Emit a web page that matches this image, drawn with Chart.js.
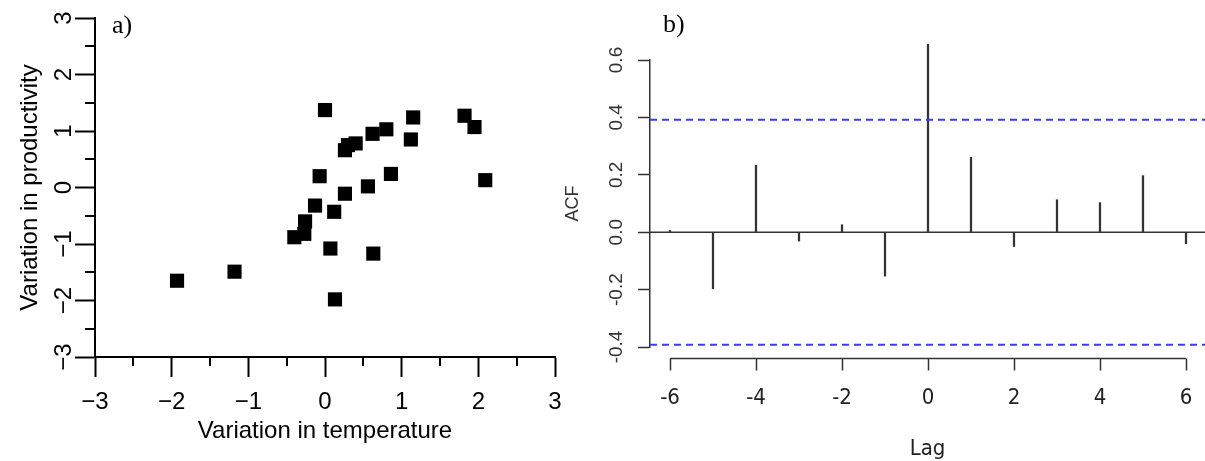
<!DOCTYPE html>
<html>
<head>
<meta charset="utf-8">
<script src="https://cdn.jsdelivr.net/npm/chart.js@4.4.1/dist/chart.umd.min.js"></script>
<style>
  html, body { margin: 0; padding: 0; background: #fff; }
  #wrap { position: relative; width: 1205px; height: 461px; overflow: hidden; }
  #leftBox { position: absolute; left: 0; top: 0; width: 600px; height: 461px; }
  #rightBox { position: absolute; left: 540px; top: 0; width: 665px; height: 461px; }
</style>
</head>
<body>
<div id="wrap">
  <div id="leftBox"><canvas id="scatterChart"></canvas></div>
  <div id="rightBox"><canvas id="acfChart"></canvas></div>
</div>
<script>
// panel a) temperature vs productivity anomalies
var tempVar = [0.00, 1.15, 1.82, 1.95, 0.80, 0.62, 0.40, 0.30, 0.26, 1.12, -0.07, 0.86, 0.56,
               0.26, -0.13, 0.12, -0.26, -0.27, -0.40, 0.07, 0.63, -1.93, -1.18, 0.13, 2.09];
var prodVar = [1.37, 1.24, 1.27, 1.07, 1.03, 0.95, 0.78, 0.75, 0.66, 0.85, 0.20, 0.24, 0.02,
               -0.11, -0.32, -0.43, -0.60, -0.82, -0.88, -1.08, -1.17, -1.65, -1.49, -1.98, 0.13];
var ticksA = [-3, -2, -1, 0, 1, 2, 3];
var minorTicksA = [-2.5, -1.5, -0.5, 0.5, 1.5, 2.5];

// panel b) cross-correlation
var lags = [-6, -5, -4, -3, -2, -1, 0, 1, 2, 3, 4, 5, 6];
var acfValues = [0.006, -0.197, 0.233, -0.031, 0.026, -0.153, 0.655, 0.261, -0.050, 0.113, 0.103, 0.197, -0.040];
var acfTicks = [-0.4, -0.2, 0.0, 0.2, 0.4, 0.6];
var lagTicks = [-6, -4, -2, 0, 2, 4, 6];
var ciBound = 0.392;
var lagMin = -6.465, lagMax = 6.442;

var sans = "'Liberation Sans', Arial, sans-serif";
var narrow = "'Liberation Sans Narrow', 'DejaVu Sans Condensed', 'Liberation Sans', sans-serif";

function fmtMinus(v) {
  return v < 0 ? '\u2212' + Math.abs(v) : String(v);
}

// keep the chart area exactly where the layout padding puts it
function noEdgePadding(s) {
  s.paddingLeft = 0;
  s.paddingRight = 0;
  s.paddingTop = 0;
  s.paddingBottom = 0;
}

var minorTicksPlugin = {
  id: 'minorTicks',
  afterDraw: function(chart) {
    var ctx = chart.ctx, xs = chart.scales.x, ys = chart.scales.y, area = chart.chartArea;
    ctx.save();
    ctx.strokeStyle = '#000';
    ctx.lineWidth = 2;
    ctx.beginPath();
    minorTicksA.forEach(function(v) {
      var px = Math.round(xs.getPixelForValue(v));
      ctx.moveTo(px, area.bottom);
      ctx.lineTo(px, area.bottom + 9);
      var py = Math.round(ys.getPixelForValue(v));
      ctx.moveTo(area.left, py);
      ctx.lineTo(area.left - 10, py);
    });
    ctx.stroke();
    ctx.fillStyle = '#000';
    ctx.font = "26px 'Liberation Serif', serif";
    ctx.fillText('a)', 112, 33);
    ctx.restore();
  }
};

new Chart(document.getElementById('scatterChart'), {
  type: 'scatter',
  data: {
    datasets: [{
      data: tempVar.map(function(t, i) { return {x: t, y: prodVar[i]}; }),
      pointStyle: 'rect',
      pointRadius: 10,
      pointHoverRadius: 10,
      backgroundColor: '#000',
      borderWidth: 0
    }]
  },
  options: {
    responsive: true,
    maintainAspectRatio: false,
    animation: false,
    layout: {padding: {top: 18, right: 45, left: 0, bottom: 0}},
    plugins: {legend: {display: false}, tooltip: {enabled: false}},
    scales: {
      x: {
        type: 'linear', min: -3, max: 3,
        afterBuildTicks: function(s) { s.ticks = ticksA.map(function(v) { return {value: v}; }); },
        afterFit: function(s) { s.height = 104; noEdgePadding(s); },
        border: {display: true, color: '#000', width: 2},
        grid: {drawOnChartArea: false, drawTicks: true, tickLength: 20, tickWidth: 2, tickColor: '#000'},
        ticks: {font: {family: sans, size: 24}, color: '#000', padding: 11, maxRotation: 0, autoSkip: false,
                callback: function(v) { return fmtMinus(v); }},
        title: {display: true, text: 'Variation in temperature', font: {family: sans, size: 24}, color: '#000',
                padding: {top: 0, bottom: 15}}
      },
      y: {
        type: 'linear', min: -3, max: 3,
        afterBuildTicks: function(s) { s.ticks = ticksA.map(function(v) { return {value: v}; }); },
        afterFit: function(s) { s.width = 95; noEdgePadding(s); },
        border: {display: true, color: '#000', width: 2},
        grid: {drawOnChartArea: false, drawTicks: true, tickLength: 20, tickWidth: 2, tickColor: '#000'},
        ticks: {font: {family: sans, size: 24}, color: '#000', padding: -3, minRotation: 90, maxRotation: 90,
                crossAlign: 'center', autoSkip: false, callback: function(v) { return fmtMinus(v); }},
        title: {display: true, text: 'Variation in productivity', font: {family: sans, size: 24}, color: '#000',
                padding: {top: 16, bottom: 0}}
      }
    }
  },
  plugins: [minorTicksPlugin]
});

var lagAxisPlugin = {
  id: 'lagAxis',
  afterDraw: function(chart) {
    var ctx = chart.ctx, xs = chart.scales.x, area = chart.chartArea;
    var y0 = Math.round(area.bottom + 11) + 0.5;
    ctx.save();
    ctx.strokeStyle = '#333';
    ctx.lineWidth = 1.5;
    ctx.beginPath();
    ctx.moveTo(xs.getPixelForValue(lagTicks[0]), y0);
    ctx.lineTo(xs.getPixelForValue(lagTicks[lagTicks.length - 1]), y0);
    lagTicks.forEach(function(v) {
      var px = Math.round(xs.getPixelForValue(v)) + 0.5;
      ctx.moveTo(px, y0);
      ctx.lineTo(px, y0 + 12);
    });
    ctx.stroke();
    ctx.fillStyle = '#000';
    ctx.font = "26px 'Liberation Serif', serif";
    ctx.fillText('b)', 123, 32);
    ctx.restore();
  }
};

new Chart(document.getElementById('acfChart'), {
  type: 'bar',
  data: {
    datasets: [{
      type: 'line',
      data: [{x: lagMin, y: ciBound}, {x: lagMax, y: ciBound}],
      borderColor: '#3b3bff', borderWidth: 2, borderDash: [7, 5], pointRadius: 0
    }, {
      type: 'line',
      data: [{x: lagMin, y: -ciBound}, {x: lagMax, y: -ciBound}],
      borderColor: '#3b3bff', borderWidth: 2, borderDash: [7, 5], pointRadius: 0
    }, {
      type: 'line',
      data: [{x: lagMin, y: 0}, {x: lagMax, y: 0}],
      borderColor: '#333', borderWidth: 1.5, pointRadius: 0
    }, {
      type: 'bar',
      data: lags.map(function(l, i) { return {x: l, y: acfValues[i]}; }),
      backgroundColor: '#333',
      borderWidth: 0,
      barThickness: 1.6,
      clip: false
    }]
  },
  options: {
    responsive: true,
    maintainAspectRatio: false,
    animation: false,
    layout: {padding: {top: 60, right: 0, left: 0, bottom: 0}},
    plugins: {legend: {display: false}, tooltip: {enabled: false}},
    scales: {
      x: {
        type: 'linear', min: lagMin, max: lagMax, offset: false,
        afterBuildTicks: function(s) { s.ticks = lagTicks.map(function(v) { return {value: v}; }); },
        afterFit: function(s) { s.height = 114; noEdgePadding(s); },
        border: {display: false},
        grid: {display: false, drawTicks: false},
        ticks: {font: {family: narrow, size: 22}, color: '#222', padding: 38, maxRotation: 0, autoSkip: false,
                callback: function(v) { return String(v); }},
        title: {display: true, text: 'Lag', font: {family: narrow, size: 22}, color: '#222',
                padding: {top: 0, bottom: -1}}
      },
      y: {
        type: 'linear', min: -0.4, max: 0.6,
        afterBuildTicks: function(s) { s.ticks = acfTicks.map(function(v) { return {value: v}; }); },
        afterFit: function(s) { s.width = 110; noEdgePadding(s); },
        border: {display: true, color: '#333', width: 1.5},
        grid: {drawOnChartArea: false, drawTicks: true, tickLength: 12, tickWidth: 1.5, tickColor: '#333'},
        ticks: {font: {family: sans, size: 19}, color: '#333', padding: 5, minRotation: 90, maxRotation: 90,
                crossAlign: 'center', autoSkip: false, callback: function(v) { return v.toFixed(1); }},
        title: {display: true, text: 'ACF', font: {family: sans, size: 18}, color: '#333',
                padding: {top: 22, bottom: 0}}
      }
    }
  },
  plugins: [lagAxisPlugin]
});
</script>
</body>
</html>
